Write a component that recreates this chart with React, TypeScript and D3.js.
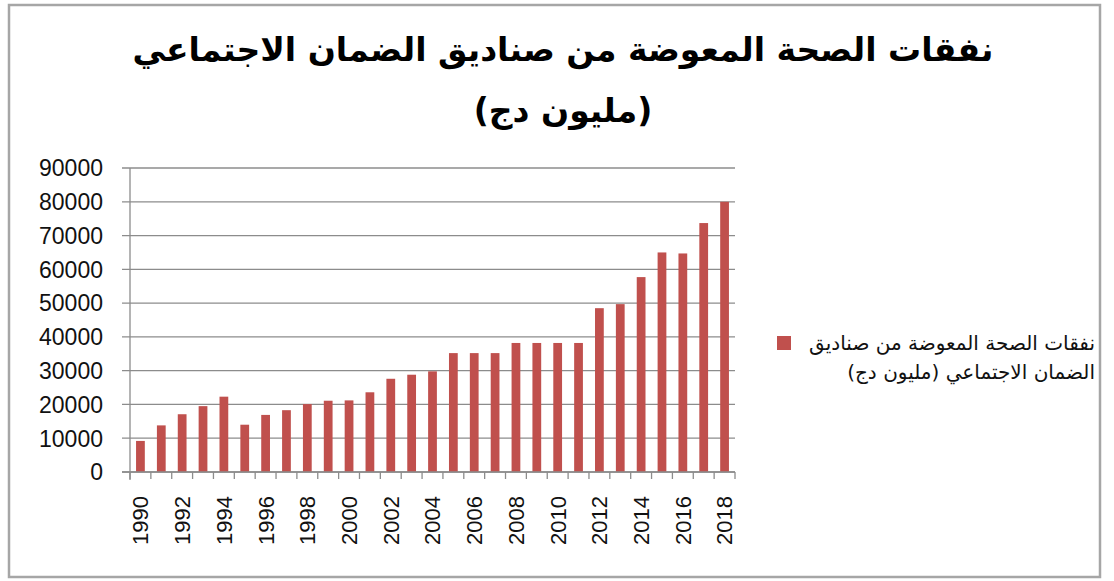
import * as d3 from 'd3';
import React, { useRef, useEffect } from 'react';

const years = d3.range(1990, 2019).map(String);
const values = [
  9200, 13800, 17100, 19500, 22300, 14000, 16900, 18300, 20100, 21100,
  21200, 23600, 27600, 28800, 29800, 35200, 35200, 35200, 38200, 38200,
  38200, 38200, 48500, 49700, 57700, 65000, 64700, 73700, 80000,
];
const yTicks = [0, 10000, 20000, 30000, 40000, 50000, 60000, 70000, 80000, 90000];
const titleLines = ['نفقات الصحة المعوضة من صناديق الضمان الاجتماعي', '(مليون دج)'];
const legendLines = ['نفقات الصحة المعوضة من صناديق', 'الضمان الاجتماعي (مليون دج)'];

export default function App() {
  const svgRef = useRef<SVGSVGElement>(null);
  const width = 1114;
  const height = 581;
  const marginLeft = 130;
  const plotRight = 735;
  const plotTop = 168;
  const plotBottom = 472;
  const barColor = '#c0504d';
  const gridColor = '#8c8c8c';

  useEffect(() => {
    if (!svgRef.current) return;
    const svg = d3.select(svgRef.current);
    svg.selectAll('*').remove();

    // frame
    svg.append('rect')
      .attr('x', 9).attr('y', 5)
      .attr('width', 1091).attr('height', 572)
      .attr('fill', 'white')
      .attr('stroke', '#a6a6a6')
      .attr('stroke-width', 2.5);

    const xScale = d3.scaleBand().domain(years).range([marginLeft, plotRight]).paddingInner(0.58).paddingOuter(0.29);
    const xBand = d3.scaleBand().domain(years).range([marginLeft, plotRight]);
    const yScale = d3.scaleLinear().domain([0, 90000]).range([plotBottom, plotTop]);

    // gridlines + left ticks
    svg.append('g')
      .selectAll('line')
      .data(yTicks)
      .join('line')
      .attr('x1', marginLeft - 8)
      .attr('x2', plotRight)
      .attr('y1', d => yScale(d))
      .attr('y2', d => yScale(d))
      .attr('stroke', gridColor)
      .attr('stroke-width', 1.3);

    // y labels
    svg.append('g')
      .selectAll('text')
      .data(yTicks)
      .join('text')
      .attr('x', 103)
      .attr('y', d => yScale(d))
      .attr('dy', '0.36em')
      .attr('text-anchor', 'end')
      .attr('font-family', '"Liberation Sans", Arial, sans-serif')
      .attr('font-size', 23)
      .attr('fill', '#111')
      .text(d => d);

    // y axis line
    svg.append('line')
      .attr('x1', marginLeft).attr('x2', marginLeft)
      .attr('y1', plotTop).attr('y2', plotBottom + 8)
      .attr('stroke', gridColor)
      .attr('stroke-width', 1.3);

    // bars
    svg.append('g')
      .selectAll('rect')
      .data(values)
      .join('rect')
      .attr('x', (d, i) => xScale(years[i])!)
      .attr('width', xScale.bandwidth())
      .attr('y', d => yScale(d))
      .attr('height', d => plotBottom - yScale(d))
      .attr('fill', barColor);

    // x axis
    svg.append('g')
      .attr('transform', `translate(0,${plotBottom})`)
      .call(d3.axisBottom(xBand).tickSize(0).tickFormat(() => '').tickSizeOuter(0))
      .call(g => g.select('.domain').attr('stroke', gridColor).attr('stroke-width', 1.3).attr('d', `M${marginLeft - 8},0H${plotRight}`));

    // x tick marks at band edges
    svg.append('g')
      .selectAll('line')
      .data(years.concat(['end']))
      .join('line')
      .attr('x1', (d, i) => marginLeft + i * xBand.step())
      .attr('x2', (d, i) => marginLeft + i * xBand.step())
      .attr('y1', plotBottom)
      .attr('y2', plotBottom + 7)
      .attr('stroke', gridColor)
      .attr('stroke-width', 1.3);

    // x labels
    svg.append('g')
      .selectAll('text')
      .data(years.filter((d, i) => i % 2 === 0))
      .join('text')
      .attr('transform', d => `translate(${xBand(d)! + xBand.bandwidth() / 2},496) rotate(-90)`)
      .attr('dy', '0.36em')
      .attr('text-anchor', 'end')
      .attr('font-family', '"Liberation Sans", Arial, sans-serif')
      .attr('font-size', 22)
      .attr('fill', '#111')
      .text(d => d);

    // title
    svg.append('g')
      .selectAll('text')
      .data(titleLines)
      .join('text')
      .attr('x', 563)
      .attr('y', (d, i) => 61 + i * 61)
      .attr('text-anchor', 'middle')
      .attr('direction', 'rtl')
      .attr('font-family', '"DejaVu Sans", sans-serif')
      .attr('font-weight', 'bold')
      .attr('font-size', 33)
      .attr('fill', '#000')
      .text(d => d);

    // legend
    svg.append('rect')
      .attr('x', 777).attr('y', 336)
      .attr('width', 14).attr('height', 14)
      .attr('fill', barColor);

    svg.append('g')
      .selectAll('text')
      .data(legendLines)
      .join('text')
      .attr('x', 1095)
      .attr('y', (d, i) => 350 + i * 29)
      .attr('text-anchor', 'start')
      .attr('direction', 'rtl')
      .attr('font-family', '"DejaVu Sans", sans-serif')
      .attr('font-size', 20)
      .attr('fill', '#111')
      .text(d => d);
  }, []);

  return (
    <svg ref={svgRef} width={width} height={height} style={{ position: 'absolute', left: 0, top: 0, background: 'white' }} />
  );
}
